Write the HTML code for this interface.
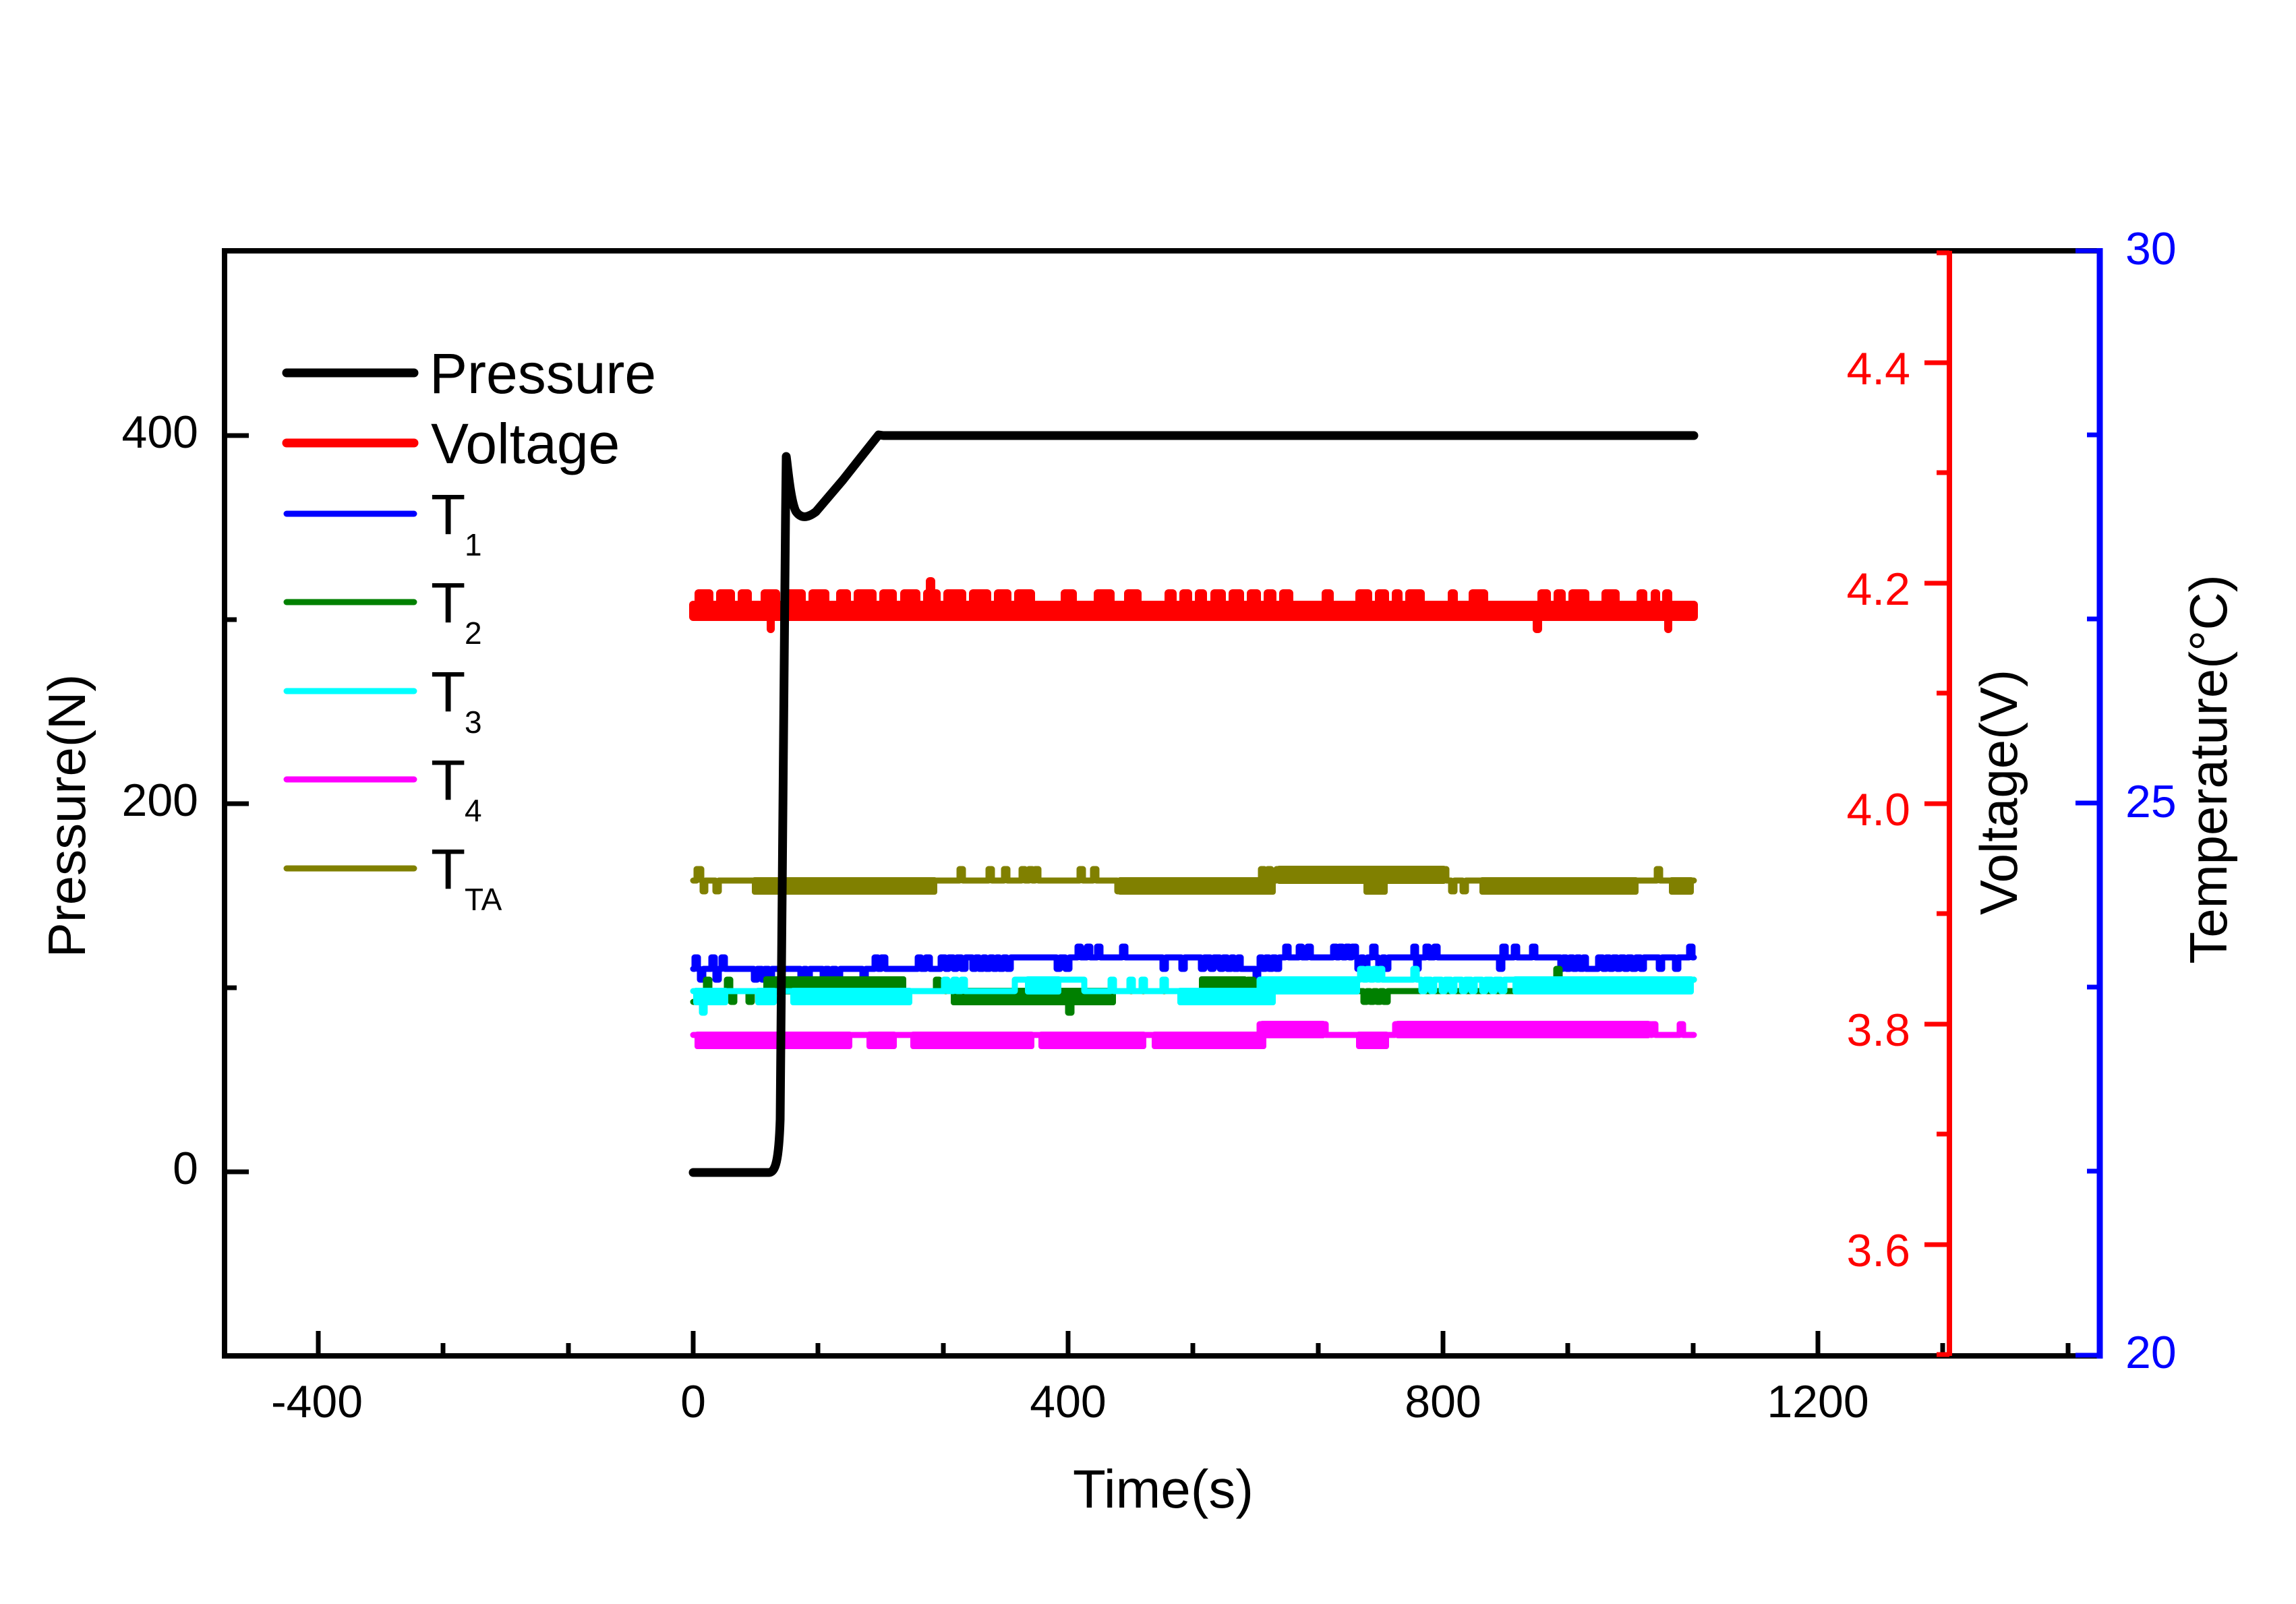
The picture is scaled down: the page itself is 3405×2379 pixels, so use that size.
<!DOCTYPE html>
<html>
<head>
<meta charset="utf-8">
<style>
html,body{margin:0;padding:0;background:#fff;}
svg{display:block;}
text{font-family:"Liberation Sans",Arial,sans-serif;}
</style>
</head>
<body>
<svg width="3405" height="2379" viewBox="0 0 3405 2379" xmlns="http://www.w3.org/2000/svg">
<rect x="0" y="0" width="3405" height="2379" fill="#fff"/>

<g fill="none" stroke-width="9" stroke-linejoin="round" stroke-linecap="round">
<path stroke="#0000ff" d="M1028,1437 H1030 V1420 H1035 V1437 H1038 V1453 H1043 V1437 H1055 V1420 H1060 V1437 H1061 V1453 H1066 V1437 H1070 V1420 H1075 V1437 H1118 V1453 H1123 V1437 H1130 V1453 H1134 V1437 H1140 V1453 H1145 V1437 H1187 V1453 H1192 V1437 H1196 V1453 H1201 V1437 H1220 V1453 H1224 V1437 H1229 V1453 H1234 V1437 H1240 V1453 H1246 V1437 H1279 V1453 H1284 V1437 H1297 V1420 H1302 V1437 H1307 V1420 H1313 V1437 H1361 V1420 H1366 V1437 H1373 V1420 H1379 V1437 H1395 V1420 H1402 V1437 H1407 V1420 H1414 V1437 H1419 V1420 H1426 V1437 H1432 V1420 H1442 V1437 H1447 V1420 H1452 V1437 H1458 V1420 H1462 V1437 H1468 V1420 H1473 V1437 H1478 V1420 H1482 V1437 H1488 V1420 H1493 V1437 H1499 V1420 H1567 V1437 H1572 V1420 H1580 V1437 H1586 V1420 H1598 V1404 H1603 V1420 H1612 V1404 H1617 V1420 H1627 V1404 H1632 V1420 H1664 V1404 H1669 V1420 H1724 V1437 H1729 V1420 H1752 V1437 H1757 V1420 H1781 V1437 H1786 V1420 H1795 V1437 H1800 V1420 H1809 V1437 H1814 V1420 H1820 V1437 H1826 V1420 H1830 V1437 H1836 V1420 H1840 V1437 H1862 V1453 H1866 V1437 H1868 V1420 H1872 V1437 H1877 V1420 H1882 V1437 H1887 V1420 H1892 V1437 H1897 V1420 H1906 V1404 H1911 V1420 H1926 V1404 H1931 V1420 H1939 V1404 H1944 V1420 H1977 V1404 H1982 V1420 H1986 V1404 H1991 V1420 H1996 V1404 H2001 V1420 H2005 V1404 H2011 V1420 H2013 V1437 H2018 V1420 H2022 V1437 H2028 V1420 H2035 V1404 H2040 V1420 H2044 V1437 H2050 V1420 H2054 V1437 H2059 V1420 H2096 V1404 H2100 V1437 H2104 V1420 H2114 V1404 H2119 V1420 H2127 V1404 H2132 V1420 H2223 V1437 H2228 V1404 H2233 V1420 H2245 V1404 H2250 V1420 H2272 V1404 H2277 V1420 H2314 V1437 H2318 V1420 H2323 V1437 H2328 V1420 H2333 V1437 H2338 V1420 H2343 V1437 H2348 V1420 H2352 V1437 H2370 V1420 H2377 V1437 H2382 V1420 H2387 V1437 H2392 V1420 H2398 V1437 H2403 V1420 H2409 V1437 H2414 V1420 H2420 V1437 H2426 V1420 H2433 V1437 H2438 V1420 H2460 V1437 H2465 V1420 H2484 V1437 H2489 V1420 H2505 V1404 H2510 V1420 H2512"/>

<g fill="#008000" stroke="none">
<rect x="1132" y="1448" width="212" height="27" rx="4"/>
<rect x="1778" y="1448" width="72" height="27" rx="4"/>
<rect x="1410" y="1465" width="245" height="26" rx="4"/>
</g>
<path stroke="#008000" d="M1028,1486 H1034 V1470 H1047 V1453 H1052 V1470 H1078 V1453 H1083 V1470 H1084 V1486 H1089 V1470 H1110 V1486 H1115 V1470 H1388 V1453 H1393 V1470 H1584 V1502 H1589 V1470 H1850 V1453 H1859 V1470 H2022 V1486 H2027 V1470 H2032 V1486 H2037 V1470 H2042 V1486 H2047 V1470 H2052 V1486 H2058 V1470 H2250 V1453 H2308 V1437 H2313 V1453 H2512"/>

<g fill="#00ffff" stroke="none">
<rect x="1028" y="1465" width="52" height="26" rx="4"/>
<rect x="1120" y="1465" width="32" height="26" rx="4"/>
<rect x="1172" y="1465" width="181" height="26" rx="4"/>
<rect x="1520" y="1448" width="54" height="27" rx="4"/>
<rect x="1746" y="1465" width="146" height="26" rx="4"/>
<rect x="1868" y="1448" width="149" height="27" rx="4"/>
<rect x="2243" y="1448" width="269" height="27" rx="4"/>
</g>
<path stroke="#00ffff" d="M1028,1470 H1041 V1502 H1045 V1470 H1400 V1453 H1405 V1470 H1414 V1453 H1419 V1470 H1426 V1453 H1431 V1470 H1505 V1453 H1608 V1470 H1647 V1453 H1652 V1470 H1675 V1453 H1680 V1470 H1693 V1453 H1698 V1470 H1724 V1453 H1729 V1470 H1868 V1453 H2017 V1437 H2022 V1453 H2027 V1437 H2032 V1453 H2037 V1437 H2042 V1453 H2046 V1437 H2050 V1453 H2096 V1437 H2101 V1453 H2108 V1470 H2113 V1453 H2122 V1470 H2127 V1453 H2138 V1470 H2143 V1453 H2152 V1470 H2157 V1453 H2168 V1470 H2173 V1453 H2182 V1470 H2187 V1453 H2198 V1470 H2203 V1453 H2212 V1470 H2217 V1453 H2226 V1470 H2231 V1453 H2512"/>

<g fill="#ff00ff" stroke="none">
<rect x="1030" y="1530" width="234" height="26" rx="4"/>
<rect x="1285" y="1530" width="45" height="26" rx="4"/>
<rect x="1350" y="1530" width="184" height="26" rx="4"/>
<rect x="1540" y="1530" width="160" height="26" rx="4"/>
<rect x="1708" y="1530" width="170" height="26" rx="4"/>
<rect x="1868" y="1514" width="98" height="26" rx="4"/>
<rect x="2011" y="1530" width="49" height="26" rx="4"/>
<rect x="2069" y="1514" width="379" height="26" rx="4"/>
</g>
<path stroke="#ff00ff" d="M1028,1535 H1868 V1519 H1966 V1535 H2069 V1519 H2448 V1535 H2450 V1519 H2455 V1535 H2491 V1519 H2496 V1535 H2512"/>

<g fill="#808000" stroke="none">
<rect x="1115" y="1301" width="275" height="26" rx="4"/>
<rect x="1657" y="1301" width="235" height="26" rx="4"/>
<rect x="1893" y="1284" width="252" height="27" rx="4"/>
<rect x="2022" y="1301" width="36" height="26" rx="4"/>
<rect x="2194" y="1301" width="236" height="26" rx="4"/>
<rect x="2475" y="1301" width="37" height="26" rx="4"/>
</g>
<path stroke="#808000" d="M1028,1306 H1033 V1289 H1040 V1306 H1042 V1322 H1046 V1306 H1061 V1322 H1066 V1306 H1423 V1289 H1428 V1306 H1466 V1289 H1471 V1306 H1489 V1289 H1494 V1306 H1515 V1289 H1520 V1306 H1526 V1289 H1531 V1306 H1535 V1289 H1540 V1306 H1601 V1289 H1606 V1306 H1621 V1289 H1626 V1306 H1657 V1322 H1870 V1289 H1875 V1306 H1880 V1289 H1885 V1306 H1893 V1289 H2145 V1306 H2152 V1322 H2157 V1306 H2169 V1322 H2174 V1306 H2457 V1289 H2462 V1306 H2512"/>
</g>

<g fill="#ff0000">
<rect x="1022" y="891" width="1496" height="30" rx="6"/>
<rect x="1030" y="874" width="28" height="24" rx="6"/>
<rect x="1062" y="874" width="28" height="24" rx="6"/>
<rect x="1094" y="874" width="21" height="24" rx="6"/>
<rect x="1128" y="874" width="29" height="24" rx="6"/>
<rect x="1163" y="874" width="32" height="24" rx="6"/>
<rect x="1199" y="874" width="31" height="24" rx="6"/>
<rect x="1240" y="874" width="22" height="24" rx="6"/>
<rect x="1266" y="874" width="34" height="24" rx="6"/>
<rect x="1304" y="874" width="26" height="24" rx="6"/>
<rect x="1335" y="874" width="30" height="24" rx="6"/>
<rect x="1369" y="874" width="26" height="24" rx="6"/>
<rect x="1399" y="874" width="34" height="24" rx="6"/>
<rect x="1437" y="874" width="33" height="24" rx="6"/>
<rect x="1474" y="874" width="26" height="24" rx="6"/>
<rect x="1504" y="874" width="31" height="24" rx="6"/>
<rect x="1573" y="874" width="24" height="24" rx="6"/>
<rect x="1622" y="874" width="31" height="24" rx="6"/>
<rect x="1667" y="874" width="26" height="24" rx="6"/>
<rect x="1727" y="874" width="18" height="24" rx="6"/>
<rect x="1749" y="874" width="19" height="24" rx="6"/>
<rect x="1772" y="874" width="18" height="24" rx="6"/>
<rect x="1795" y="874" width="23" height="24" rx="6"/>
<rect x="1822" y="874" width="23" height="24" rx="6"/>
<rect x="1849" y="874" width="21" height="24" rx="6"/>
<rect x="1874" y="874" width="19" height="24" rx="6"/>
<rect x="1897" y="874" width="21" height="24" rx="6"/>
<rect x="1960" y="874" width="18" height="24" rx="6"/>
<rect x="2010" y="874" width="25" height="24" rx="6"/>
<rect x="2039" y="874" width="21" height="24" rx="6"/>
<rect x="2064" y="874" width="16" height="24" rx="6"/>
<rect x="2084" y="874" width="29" height="24" rx="6"/>
<rect x="2147" y="874" width="15" height="24" rx="6"/>
<rect x="2178" y="874" width="29" height="24" rx="6"/>
<rect x="2280" y="874" width="20" height="24" rx="6"/>
<rect x="2304" y="874" width="18" height="24" rx="6"/>
<rect x="2326" y="874" width="31" height="24" rx="6"/>
<rect x="2375" y="874" width="27" height="24" rx="6"/>
<rect x="2427" y="874" width="16" height="24" rx="6"/>
<rect x="2448" y="874" width="14" height="24" rx="6"/>
<rect x="2465" y="874" width="15" height="24" rx="6"/>
<rect x="1373" y="856" width="14" height="30" rx="6"/>
<rect x="1137" y="912" width="12" height="27" rx="6"/>
<rect x="2273" y="912" width="14" height="27" rx="6"/>
<rect x="2468" y="912" width="12" height="27" rx="6"/>
</g>

<path fill="none" stroke="#000" stroke-width="13" stroke-linejoin="round" stroke-linecap="round" d="M1028,1739 H1140 C1150,1739 1155,1722 1157,1660 L1163,980 L1165,760 L1166,677 C1168,690 1172,740 1180,758 C1188,770 1198,768 1210,759 L1250,712 L1280,674 L1303,645 L1310,646 H2512"/>

<g stroke="#000" stroke-width="8" fill="none" stroke-linecap="square">
<line x1="333" y1="372" x2="3114" y2="372"/>
<line x1="333" y1="2011" x2="3114" y2="2011"/>
<line x1="333" y1="372" x2="333" y2="2011"/>
</g>
<g stroke="#000" stroke-width="7">
<line x1="472" y1="2011" x2="472" y2="1974"/>
<line x1="1028" y1="2011" x2="1028" y2="1974"/>
<line x1="1584" y1="2011" x2="1584" y2="1974"/>
<line x1="2140" y1="2011" x2="2140" y2="1974"/>
<line x1="2696" y1="2011" x2="2696" y2="1974"/>
<line x1="657" y1="2011" x2="657" y2="1992"/>
<line x1="843" y1="2011" x2="843" y2="1992"/>
<line x1="1213" y1="2011" x2="1213" y2="1992"/>
<line x1="1399" y1="2011" x2="1399" y2="1992"/>
<line x1="1769" y1="2011" x2="1769" y2="1992"/>
<line x1="1955" y1="2011" x2="1955" y2="1992"/>
<line x1="2325" y1="2011" x2="2325" y2="1992"/>
<line x1="2511" y1="2011" x2="2511" y2="1992"/>
<line x1="2881" y1="2011" x2="2881" y2="1992"/>
<line x1="3067" y1="2011" x2="3067" y2="1992"/>
<line x1="333" y1="1738" x2="369" y2="1738"/>
<line x1="333" y1="1192" x2="369" y2="1192"/>
<line x1="333" y1="646" x2="369" y2="646"/>
<line x1="333" y1="1465" x2="351" y2="1465"/>
<line x1="333" y1="919" x2="351" y2="919"/>
</g>

<g stroke="#ff0000" stroke-width="7">
<line x1="2891" y1="372" x2="2891" y2="2011" stroke-width="8"/>
<line x1="2891" y1="538" x2="2854" y2="538"/>
<line x1="2891" y1="865" x2="2854" y2="865"/>
<line x1="2891" y1="1192" x2="2854" y2="1192"/>
<line x1="2891" y1="1519" x2="2854" y2="1519"/>
<line x1="2891" y1="1846" x2="2854" y2="1846"/>
<line x1="2891" y1="375" x2="2872" y2="375"/>
<line x1="2891" y1="701" x2="2872" y2="701"/>
<line x1="2891" y1="1028" x2="2872" y2="1028"/>
<line x1="2891" y1="1355" x2="2872" y2="1355"/>
<line x1="2891" y1="1682" x2="2872" y2="1682"/>
<line x1="2891" y1="2009" x2="2872" y2="2009"/>
</g>

<g stroke="#0000ff" stroke-width="7">
<line x1="3114" y1="368" x2="3114" y2="2015" stroke-width="9"/>
<line x1="3114" y1="372" x2="3078" y2="372"/>
<line x1="3114" y1="1191" x2="3078" y2="1191"/>
<line x1="3114" y1="2010" x2="3078" y2="2010"/>
<line x1="3114" y1="645" x2="3095" y2="645"/>
<line x1="3114" y1="918" x2="3095" y2="918"/>
<line x1="3114" y1="1464" x2="3095" y2="1464"/>
<line x1="3114" y1="1737" x2="3095" y2="1737"/>
</g>

<g font-size="68" fill="#000" text-anchor="end">
<text x="294" y="664">400</text>
<text x="294" y="1210">200</text>
<text x="294" y="1756">0</text>
</g>
<g font-size="68" fill="#000" text-anchor="middle">
<text x="470" y="2102">-400</text>
<text x="1028" y="2102">0</text>
<text x="1584" y="2102">400</text>
<text x="2140" y="2102">800</text>
<text x="2696" y="2102">1200</text>
</g>
<g font-size="68" fill="#ff0000" text-anchor="end">
<text x="2833" y="570">4.4</text>
<text x="2833" y="897">4.2</text>
<text x="2833" y="1224">4.0</text>
<text x="2833" y="1551">3.8</text>
<text x="2833" y="1878">3.6</text>
</g>
<g font-size="68" fill="#0000ff" text-anchor="start">
<text x="3152" y="392">30</text>
<text x="3152" y="1212">25</text>
<text x="3152" y="2029">20</text>
</g>

<text font-size="80" text-anchor="middle" x="1725" y="2236">Time(s)</text>
<text font-size="78" text-anchor="middle" transform="translate(126,1210) rotate(-90)">Pressure(N)</text>
<text font-size="78" text-anchor="middle" transform="translate(2991,1175) rotate(-90)">Voltage(V)</text>
<text font-size="78" text-anchor="middle" transform="translate(3302,1141) rotate(-90)">Temperature(°C)</text>

<g stroke-linecap="round" fill="none">
<line x1="425" y1="553" x2="614" y2="553" stroke="#000" stroke-width="13"/>
<line x1="425" y1="657" x2="614" y2="657" stroke="#ff0000" stroke-width="13"/>
<line x1="425" y1="762" x2="614" y2="762" stroke="#0000ff" stroke-width="9"/>
<line x1="425" y1="893" x2="614" y2="893" stroke="#008000" stroke-width="9"/>
<line x1="425" y1="1025" x2="614" y2="1025" stroke="#00ffff" stroke-width="9"/>
<line x1="425" y1="1156" x2="614" y2="1156" stroke="#ff00ff" stroke-width="9"/>
<line x1="425" y1="1288" x2="614" y2="1288" stroke="#808000" stroke-width="9"/>
</g>
<g font-size="84" fill="#000">
<text x="637" y="583">Pressure</text>
<text x="639" y="687">Voltage</text>
<text x="639" y="792">T</text>
<text x="639" y="923">T</text>
<text x="639" y="1055">T</text>
<text x="639" y="1186">T</text>
<text x="639" y="1318">T</text>
</g>
<g font-size="46" fill="#000">
<text x="689" y="824">1</text>
<text x="689" y="955">2</text>
<text x="689" y="1087">3</text>
<text x="689" y="1218">4</text>
<text x="689" y="1350">TA</text>
</g>
</svg>
</body>
</html>
